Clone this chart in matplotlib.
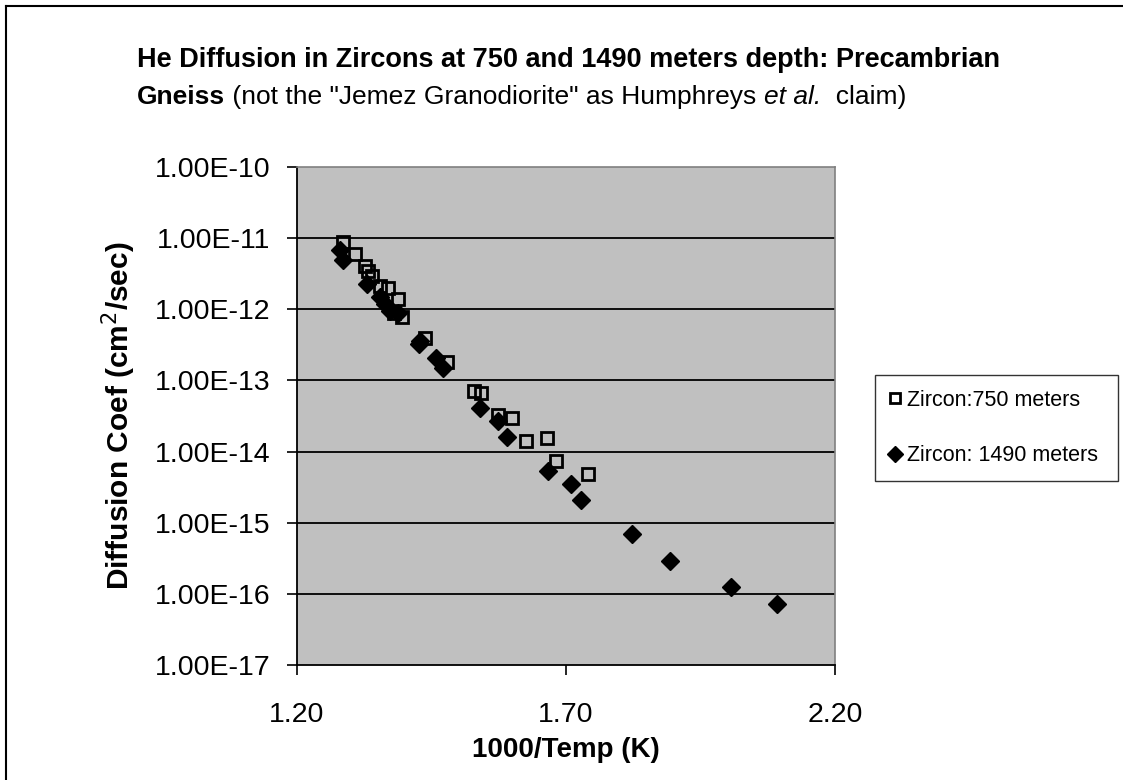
import numpy as np
import matplotlib
matplotlib.use("Agg")
import matplotlib.pyplot as plt
from matplotlib.ticker import FixedLocator, NullLocator

plt.rcParams['font.family'] = ['Liberation Sans', 'DejaVu Sans']

# Zircon from 750 m depth (open squares)
x_750 = [1.286, 1.307, 1.326, 1.332, 1.340, 1.355, 1.370, 1.387, 1.381, 1.396,
         1.437, 1.479, 1.529, 1.542, 1.574, 1.600, 1.626, 1.665, 1.682, 1.740]
d_750 = [8.9e-12, 6.0e-12, 4.0e-12, 3.4e-12, 2.9e-12, 2.1e-12, 2.0e-12, 1.4e-12, 9.0e-13, 7.9e-13,
         4.0e-13, 1.8e-13, 7.2e-14, 6.7e-14, 3.3e-14, 3.0e-14, 1.4e-14, 1.55e-14, 7.3e-15, 4.8e-15]

# Zircon from 1490 m depth (filled diamonds)
x_1490 = [1.280, 1.286, 1.331, 1.355, 1.363, 1.372, 1.387, 1.426, 1.428, 1.458,
          1.471, 1.540, 1.574, 1.591, 1.667, 1.710, 1.727, 1.822, 1.893, 2.006, 2.092]
d_1490 = [6.9e-12, 5.0e-12, 2.3e-12, 1.5e-12, 1.2e-12, 9.5e-13, 8.9e-13, 3.3e-13, 3.6e-13, 2.1e-13,
          1.5e-13, 4.1e-14, 2.7e-14, 1.6e-14, 5.3e-15, 3.5e-15, 2.1e-15, 6.9e-16, 2.9e-16, 1.25e-16, 7.2e-17]

x_ticks = [1.20, 1.70, 2.20]
y_ticks = [1e-17, 1e-16, 1e-15, 1e-14, 1e-13, 1e-12, 1e-11, 1e-10]

fig = plt.figure(figsize=(11.23, 7.80), dpi=100)
ax = fig.add_axes([297 / 1123, 1 - 665 / 780, (835 - 297) / 1123, (665 - 167) / 780])
ax.set_facecolor('#c0c0c0')

ax.set_yscale('log')
ax.set_xlim(1.20, 2.20)
ax.set_ylim(1e-17, 1e-10)
ax.xaxis.set_major_locator(FixedLocator(x_ticks))
ax.yaxis.set_major_locator(FixedLocator(y_ticks))
ax.yaxis.set_minor_locator(NullLocator())
ax.set_xticklabels(['%.2f' % v for v in x_ticks])
ax.set_yticklabels(['1.00E%03d' % int(np.log10(v)) for v in y_ticks])
ax.tick_params(labelsize=20.5, length=7, width=1.2, direction='out', pad=12, colors='black')
ax.tick_params(axis='x', pad=20)

for v in y_ticks[1:-1]:
    ax.axhline(v, color='black', lw=1.3, zorder=1)

for s in ['top', 'right']:
    ax.spines[s].set_color('#808080')
    ax.spines[s].set_linewidth(1.2)
for s in ['left', 'bottom']:
    ax.spines[s].set_color('black')
    ax.spines[s].set_linewidth(1.3)

ax.plot(x_750, d_750, 's', ms=9, mfc='none', mec='black', mew=2.0,
        label='Zircon:750 meters', zorder=3)
ax.plot(x_1490, d_1490, 'D', ms=9, mfc='black', mec='black',
        label='Zircon: 1490 meters', zorder=3)

ax.set_xlabel('1000/Temp (K)', fontsize=20, fontweight='bold', labelpad=6)
ax.set_ylabel('Diffusion Coef (cm$^2$/sec)', fontsize=21.5, fontweight='bold', labelpad=12)

leg = ax.legend(loc='center left', bbox_to_anchor=(875 / 1123, 1 - 483 / 780, 243 / 1123, 110 / 780),
                bbox_transform=fig.transFigure, mode='expand', frameon=True, fancybox=False,
                fontsize=15.5, handlelength=0.5, handletextpad=0.3, labelspacing=1.6,
                borderpad=0.7, borderaxespad=0, markerscale=0.85)
leg.get_frame().set_edgecolor('black')
leg.get_frame().set_linewidth(1.0)

# title, written in two lines with mixed styles
fig.text(137 / 1123, 1 - 60 / 780, 'He Diffusion in Zircons at 750 and 1490 meters depth: Precambrian',
         fontsize=19.5, fontweight='bold', va='center', ha='left')

fig.canvas.draw()
renderer = fig.canvas.get_renderer()
parts = [('Gneiss', 'bold', 'normal'),
         (' (not the "Jemez Granodiorite" as Humphreys ', 'normal', 'normal'),
         ('et al.', 'normal', 'italic'),
         ('  claim)', 'normal', 'normal')]
xpos = 137
for txt, wt, st in parts:
    t = fig.text(xpos / 1123, 1 - 97 / 780, txt, fontsize=19, fontweight=wt, fontstyle=st,
                 va='center', ha='left')
    xpos += t.get_window_extent(renderer).width

# outer chart border (only left and top edges fall inside the picture)
fig.add_artist(plt.Line2D([6 / 1123, 6 / 1123], [0, 1 - 6 / 780], color='black', lw=1.5))
fig.add_artist(plt.Line2D([6 / 1123, 1], [1 - 6 / 780, 1 - 6 / 780], color='black', lw=1.5))

fig.savefig('out.png', dpi=100)
